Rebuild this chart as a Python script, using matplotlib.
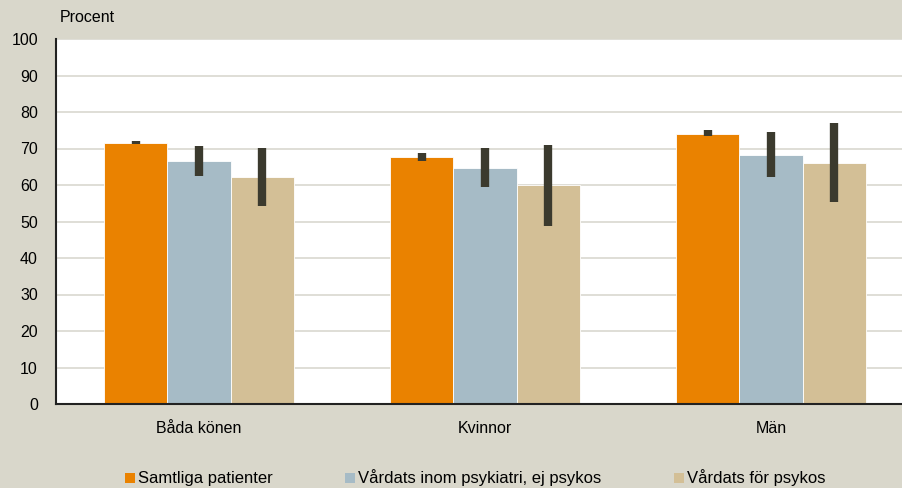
import numpy as np
import matplotlib.pyplot as plt
from matplotlib.patches import Rectangle

plt.rcParams['font.family'] = ['Liberation Sans', 'DejaVu Sans']

groups = ['Båda könen', 'Kvinnor', 'Män']
series = ['Samtliga patienter', 'Vårdats inom psykiatri, ej psykos', 'Vårdats för psykos']
colors = ['#ea8200', '#a6bbc6', '#d3bf96']

# andel (%) med konfidensintervall
values = [
    [71.5, 67.7, 74.0],
    [66.6, 64.7, 68.2],
    [62.2, 60.0, 66.0],
]
ci_low = [
    [71.1, 66.6, 73.4],
    [62.5, 59.5, 62.2],
    [54.2, 48.8, 55.3],
]
ci_high = [
    [72.0, 68.8, 75.1],
    [70.7, 70.1, 74.5],
    [70.1, 71.0, 77.0],
]

bg = '#d9d7cb'
W, H = 902, 488
fig = plt.figure(figsize=(W / 100, H / 100), dpi=100, facecolor=bg)
ax = fig.add_axes([56 / W, 84 / H, (W - 56) / W, 365 / H])
ax.set_facecolor('white')

x = np.arange(len(groups))
bw = 0.222
for i, s in enumerate(series):
    pos = x + (i - 1) * bw
    ax.bar(pos, values[i], width=bw, color=colors[i], edgecolor='white', linewidth=0.6, zorder=2)
    ax.vlines(pos, ci_low[i], ci_high[i], color='#3b3a2e', linewidth=6, zorder=3)

ax.set_ylim(0, 100)
ax.set_xlim(-0.5, 2.5 - 12 / 286)
ax.set_yticks(range(0, 101, 10))
ax.yaxis.grid(True, color='#d9d8d0', linewidth=1.2, zorder=0)
ax.set_axisbelow(True)
ax.set_xticks(x)
ax.set_xticklabels(groups)
ax.tick_params(axis='both', length=0, labelsize=11.5, colors='black')
ax.tick_params(axis='x', pad=12)
ax.tick_params(axis='y', pad=13)
for sp in ['top', 'right']:
    ax.spines[sp].set_visible(False)
for sp in ['left', 'bottom']:
    ax.spines[sp].set_color('#222222')
    ax.spines[sp].set_linewidth(1.5)

fig.text(60 / W, 1 - 18 / H, 'Procent', fontsize=11.5, va='center', ha='left')

# förklaring: färgruta + text
leg_x = [125, 345, 674]
leg_y = 478
for lx, c, s in zip(leg_x, colors, series):
    fig.patches.append(Rectangle((lx / W, (H - leg_y - 5) / H), 10 / W, 10 / H,
                                 transform=fig.transFigure, facecolor=c, edgecolor='none'))
    fig.text((lx + 13) / W, 1 - leg_y / H, s, fontsize=12, va='center', ha='left')

fig.savefig('out.png', dpi=100, facecolor=bg)
